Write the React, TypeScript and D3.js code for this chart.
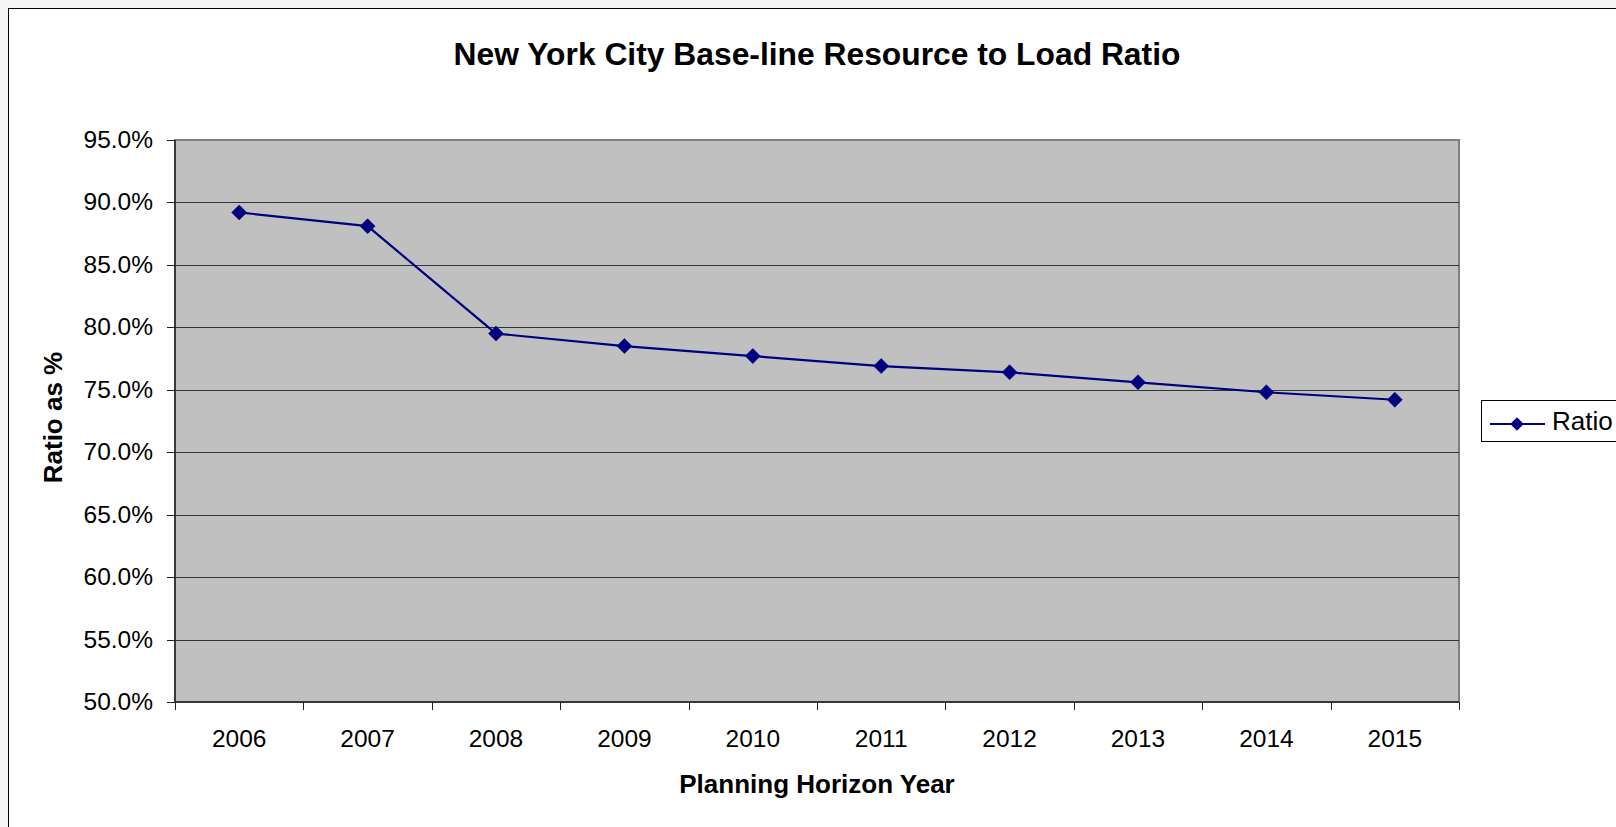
import React from 'react';
import * as d3 from 'd3';

const years = ['2006', '2007', '2008', '2009', '2010', '2011', '2012', '2013', '2014', '2015'];
const ratio = [89.2, 88.1, 79.5, 78.5, 77.7, 76.9, 76.4, 75.6, 74.8, 74.2];
const yTicks = [50, 55, 60, 65, 70, 75, 80, 85, 90, 95];

const W = 1616;
const H = 827;
const plot = { left: 175, right: 1459, top: 140, bottom: 702 };
const font = '"Liberation Sans", Arial, Helvetica, sans-serif';
const navy = '#000080';

// rotated square = Excel-style diamond marker
const diamond = (cx: number, cy: number, r: number) =>
  `M${cx},${cy - r}L${cx + r},${cy}L${cx},${cy + r}L${cx - r},${cy}Z`;

const App: React.FC = () => {
  const x = d3.scaleBand<string>().domain(years).range([plot.left, plot.right]);
  const y = d3.scaleLinear().domain([50, 95]).range([plot.bottom, plot.top]);
  const cx = (yr: string) => (x(yr) as number) + x.bandwidth() / 2;

  const line = d3.line<number>()
    .x((_, i) => cx(years[i]))
    .y(d => y(d));

  const midX = (plot.left + plot.right) / 2;
  // category boundaries for x tick marks
  const xEdges = [...years.map(yr => x(yr) as number), plot.right];

  return (
    <svg
      width={W}
      height={H}
      style={{ position: 'fixed', left: 0, top: 0, display: 'block' }}
      fontFamily={font}
    >
      <rect x={0} y={0} width={W} height={H} fill="#f5f5f5" />
      <rect x={8.5} y={8.5} width={W + 40} height={H + 40} fill="#fff" stroke="#000" strokeWidth={1} />

      {/* title */}
      <text x={midX} y={65} textAnchor="middle" fontSize={31.8} fontWeight="bold" fill="#000">
        New York City Base-line Resource to Load Ratio
      </text>

      {/* plot area */}
      <rect
        x={plot.left}
        y={plot.top}
        width={plot.right - plot.left}
        height={plot.bottom - plot.top}
        fill="#c0c0c0"
        stroke="#808080"
        strokeWidth={2}
      />

      {/* gridlines */}
      {yTicks.filter(t => t !== 50 && t !== 95).map(t => (
        <line key={t} x1={plot.left} x2={plot.right} y1={Math.round(y(t)) + 0.5} y2={Math.round(y(t)) + 0.5} stroke="#333" strokeWidth={1} />
      ))}

      {/* y axis */}
      <line x1={plot.left} x2={plot.left} y1={plot.top} y2={plot.bottom} stroke="#222" strokeWidth={1.5} />
      {yTicks.map(t => (
        <g key={t}>
          <line x1={plot.left - 8} x2={plot.left} y1={Math.round(y(t)) + 0.5} y2={Math.round(y(t)) + 0.5} stroke="#222" strokeWidth={1} />
          <text x={153} y={y(t) + 8} textAnchor="end" fontSize={24.5} fill="#000">
            {t.toFixed(1)}%
          </text>
        </g>
      ))}

      {/* x axis */}
      <line x1={plot.left} x2={plot.right} y1={plot.bottom} y2={plot.bottom} stroke="#222" strokeWidth={1.5} />
      {xEdges.map((e, i) => (
        <line key={i} x1={Math.round(e) + 0.5} x2={Math.round(e) + 0.5} y1={plot.bottom} y2={plot.bottom + 8} stroke="#222" strokeWidth={1} />
      ))}
      {years.map(yr => (
        <text key={yr} x={cx(yr)} y={747} textAnchor="middle" fontSize={24.5} fill="#000">
          {yr}
        </text>
      ))}

      {/* axis titles */}
      <text x={midX} y={793} textAnchor="middle" fontSize={26} fontWeight="bold" fill="#000">
        Planning Horizon Year
      </text>
      <text
        x={62}
        y={417.5}
        transform="rotate(-90, 62, 417.5)"
        textAnchor="middle"
        fontSize={26}
        fontWeight="bold"
        fill="#000"
      >
        Ratio as %
      </text>

      {/* series */}
      <path d={line(ratio) || ''} fill="none" stroke={navy} strokeWidth={2.2} />
      {ratio.map((v, i) => (
        <path key={years[i]} d={diamond(cx(years[i]), y(v), 7.5)} fill={navy} stroke={navy} strokeWidth={0.6} />
      ))}

      {/* legend */}
      <rect x={1481.5} y={400.5} width={200} height={41} fill="#fff" stroke="#000" strokeWidth={1} />
      <line x1={1490} x2={1545} y1={424} y2={424} stroke={navy} strokeWidth={2.2} />
      <path d={diamond(1517, 424, 6.8)} fill={navy} />
      <text x={1552} y={430} fontSize={26} fill="#000">Ratio</text>
    </svg>
  );
};

export default App;
